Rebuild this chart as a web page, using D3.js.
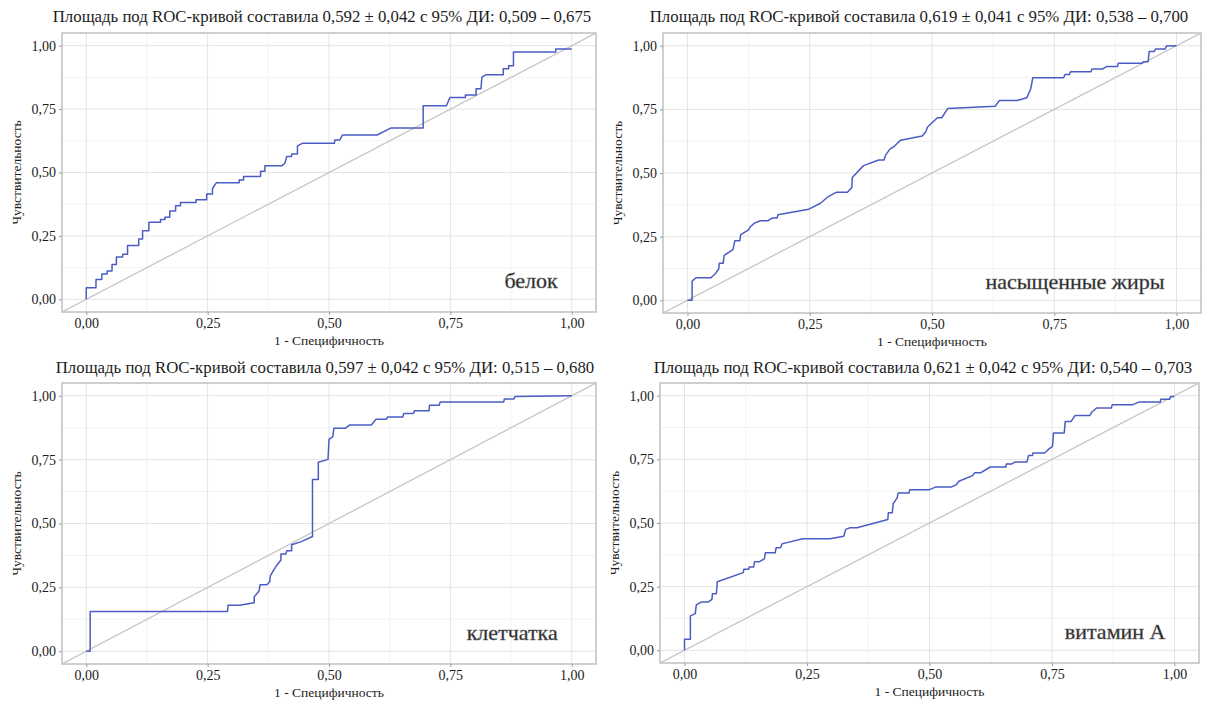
<!DOCTYPE html>
<html>
<head>
<meta charset="utf-8">
<script src="https://cdn.jsdelivr.net/npm/d3@7"></script>
<style>
  body { margin: 0; background: #ffffff; }
  svg { display: block; }
</style>
</head>
<body>
<svg id="chart" width="1209" height="704"></svg>
<script>
// Axis ticks shared by all four ROC panels
const tickValues = [0, 0.25, 0.5, 0.75, 1];
const tickLabels = ["0,00", "0,25", "0,50", "0,75", "1,00"];

// Panel captions and AUC statistics
const panelNames = ["белок", "насыщенные жиры", "клетчатка", "витамин А"];
const aucValues = [0.592, 0.619, 0.597, 0.621];
const aucErrors = [0.042, 0.041, 0.042, 0.042];
const ciLower = [0.509, 0.538, 0.515, 0.540];
const ciUpper = [0.675, 0.700, 0.680, 0.703];

// ROC curve: белок (1 - specificity, sensitivity)
const proteinFpr = [0, 0, 0.020, 0.020, 0.032, 0.032, 0.043, 0.043, 0.053, 0.053, 0.062, 0.062, 0.075, 0.075, 0.085, 0.085,
  0.108, 0.108, 0.116, 0.116, 0.129, 0.129, 0.153, 0.153, 0.162, 0.162, 0.172, 0.172, 0.184, 0.184, 0.194, 0.194,
  0.226, 0.226, 0.248, 0.248, 0.260, 0.260, 0.268, 0.315, 0.315, 0.324, 0.324, 0.359, 0.359, 0.368, 0.368,
  0.403, 0.409, 0.413, 0.423, 0.423, 0.435, 0.435, 0.445, 0.511, 0.512, 0.522, 0.528, 0.599, 0.627, 0.694, 0.694,
  0.742, 0.749, 0.781, 0.781, 0.803, 0.803, 0.813, 0.815, 0.823, 0.859, 0.859, 0.870, 0.870, 0.880, 0.880,
  0.967, 0.967, 1.0];
const proteinTpr = [0, 0.046, 0.046, 0.078, 0.078, 0.100, 0.100, 0.112, 0.112, 0.137, 0.137, 0.167, 0.167, 0.178, 0.178, 0.212,
  0.212, 0.238, 0.238, 0.270, 0.270, 0.304, 0.304, 0.315, 0.315, 0.324, 0.324, 0.348, 0.348, 0.369, 0.369, 0.382,
  0.382, 0.393, 0.393, 0.415, 0.415, 0.437, 0.460, 0.460, 0.470, 0.470, 0.484, 0.484, 0.505, 0.505, 0.527,
  0.527, 0.536, 0.563, 0.563, 0.573, 0.573, 0.605, 0.615, 0.615, 0.628, 0.628, 0.648, 0.648, 0.675, 0.675, 0.763,
  0.763, 0.796, 0.796, 0.806, 0.806, 0.830, 0.830, 0.876, 0.885, 0.885, 0.909, 0.909, 0.921, 0.921, 0.975,
  0.975, 0.987, 0.987];

// ROC curve: насыщенные жиры
const satFatFpr = [0, 0.0095, 0.0095, 0.0175, 0.048, 0.057, 0.064, 0.065, 0.073, 0.075, 0.093, 0.097, 0.107, 0.109, 0.125,
  0.129, 0.137, 0.149, 0.165, 0.173, 0.183, 0.185, 0.248, 0.272, 0.288, 0.304, 0.327, 0.336, 0.337, 0.360, 0.391,
  0.402, 0.405, 0.414, 0.424, 0.436, 0.480, 0.487, 0.491, 0.511, 0.520, 0.532, 0.629, 0.638, 0.674, 0.694, 0.702,
  0.706, 0.769, 0.772, 0.781, 0.783, 0.825, 0.827, 0.849, 0.857, 0.879, 0.881, 0.929, 0.932, 0.942, 0.944, 0.954,
  0.957, 0.977, 0.979, 1.0];
const satFatTpr = [0, 0, 0.0755, 0.0885, 0.0885, 0.104, 0.124, 0.145, 0.145, 0.176, 0.199, 0.234, 0.234, 0.258, 0.277,
  0.290, 0.303, 0.3125, 0.3125, 0.323, 0.323, 0.336, 0.358, 0.381, 0.4075, 0.424, 0.424, 0.443, 0.482, 0.529, 0.551,
  0.551, 0.570, 0.594, 0.607, 0.629, 0.645, 0.661, 0.681, 0.717, 0.717, 0.753, 0.762, 0.785, 0.785, 0.796, 0.831,
  0.874, 0.874, 0.887, 0.887, 0.898, 0.898, 0.909, 0.909, 0.918, 0.918, 0.931, 0.931, 0.9375, 0.9375, 0.977, 0.977,
  0.987, 0.987, 0.999, 1.0];

// ROC curve: клетчатка
const fiberFpr = [0, 0.008, 0.008, 0.291, 0.292, 0.316, 0.346, 0.346, 0.356, 0.358, 0.372, 0.378, 0.379, 0.391, 0.401,
  0.401, 0.411, 0.413, 0.423, 0.423, 0.443, 0.466, 0.466, 0.478, 0.478, 0.498, 0.500, 0.508, 0.510, 0.534, 0.543,
  0.587, 0.597, 0.618, 0.621, 0.652, 0.654, 0.674, 0.676, 0.706, 0.707, 0.727, 0.729, 0.860, 0.861, 0.881, 0.883, 1.0];
const fiberTpr = [0, 0, 0.156, 0.156, 0.180, 0.180, 0.190, 0.213, 0.236, 0.260, 0.260, 0.272, 0.295, 0.333, 0.357,
  0.381, 0.381, 0.393, 0.393, 0.417, 0.429, 0.449, 0.672, 0.672, 0.740, 0.751, 0.829, 0.840, 0.873, 0.873, 0.886,
  0.886, 0.908, 0.908, 0.917, 0.917, 0.931, 0.931, 0.941, 0.941, 0.963, 0.963, 0.976, 0.976, 0.987, 0.987, 0.997, 1.0];

// ROC curve: витамин А
const vitaminAFpr = [0, 0, 0.012, 0.012, 0.022, 0.024, 0.035, 0.049, 0.056, 0.057, 0.065, 0.067, 0.120, 0.121, 0.131,
  0.132, 0.141, 0.143, 0.153, 0.163, 0.165, 0.185, 0.187, 0.196, 0.199, 0.241, 0.297, 0.325, 0.329, 0.337, 0.352,
  0.415, 0.416, 0.424, 0.426, 0.434, 0.436, 0.458, 0.460, 0.500, 0.512, 0.544, 0.555, 0.560, 0.588, 0.592, 0.604,
  0.624, 0.656, 0.657, 0.668, 0.675, 0.699, 0.702, 0.710, 0.711, 0.735, 0.742, 0.751, 0.753, 0.775, 0.777, 0.789,
  0.797, 0.827, 0.831, 0.841, 0.871, 0.873, 0.915, 0.927, 0.971, 0.972, 0.990, 0.992, 1.0];
const vitaminATpr = [0, 0.043, 0.043, 0.135, 0.144, 0.178, 0.190, 0.190, 0.200, 0.222, 0.222, 0.269, 0.305, 0.318, 0.318,
  0.327, 0.327, 0.348, 0.348, 0.359, 0.383, 0.383, 0.403, 0.403, 0.418, 0.438, 0.438, 0.448, 0.475, 0.481, 0.481,
  0.514, 0.540, 0.540, 0.576, 0.599, 0.618, 0.618, 0.631, 0.631, 0.641, 0.641, 0.651, 0.664, 0.686, 0.697, 0.697,
  0.720, 0.720, 0.732, 0.732, 0.740, 0.740, 0.765, 0.765, 0.775, 0.775, 0.788, 0.801, 0.854, 0.854, 0.899, 0.899,
  0.922, 0.922, 0.935, 0.952, 0.952, 0.965, 0.965, 0.975, 0.975, 0.986, 0.986, 0.997, 0.997];

const curves = [
  { fpr: proteinFpr, tpr: proteinTpr },
  { fpr: satFatFpr, tpr: satFatTpr },
  { fpr: fiberFpr, tpr: fiberTpr },
  { fpr: vitaminAFpr, tpr: vitaminATpr }
];

// Frame of each plotting area and where its title is centred
const frames = [
  { left: 62, top: 33, width: 534, height: 279, titleX: 322, titleY: 22, captionDx: 14 },
  { left: 663, top: 33, width: 538, height: 280, titleX: 919, titleY: 22, captionDx: 12 },
  { left: 62, top: 383, width: 534, height: 281, titleX: 325, titleY: 373, captionDx: 14 },
  { left: 660, top: 383, width: 539, height: 280, titleX: 923, titleY: 373, captionDx: 9 }
];

const SERIF = '"Liberation Serif", "Times New Roman", Times, serif';
const INK = "#1c1c1c";
const fmt = d3.format(".3f");
const comma = v => fmt(v).replace(".", ",");
const svg = d3.select("#chart");

frames.forEach((f, i) => {
  const g = svg.append("g").attr("transform", `translate(${f.left},${f.top})`);
  const x = d3.scaleLinear().domain([-0.05, 1.05]).range([0, f.width]);
  const y = d3.scaleLinear().domain([-0.05, 1.05]).range([f.height, 0]);
  const clipId = `clip-${i}`;
  g.append("clipPath").attr("id", clipId)
    .append("rect").attr("width", f.width).attr("height", f.height);

  const minor = [0.125, 0.375, 0.625, 0.875];
  // minor grid
  g.append("g").selectAll("line").data(minor).join("line")
    .attr("x1", d => x(d)).attr("x2", d => x(d)).attr("y1", 0).attr("y2", f.height)
    .attr("stroke", "#f3f3f3").attr("stroke-width", 1);
  g.append("g").selectAll("line").data(minor).join("line")
    .attr("y1", d => y(d)).attr("y2", d => y(d)).attr("x1", 0).attr("x2", f.width)
    .attr("stroke", "#f3f3f3").attr("stroke-width", 1);
  // major grid
  g.append("g").selectAll("line").data(tickValues).join("line")
    .attr("x1", d => x(d)).attr("x2", d => x(d)).attr("y1", 0).attr("y2", f.height)
    .attr("stroke", "#e4e4e4").attr("stroke-width", 1);
  g.append("g").selectAll("line").data(tickValues).join("line")
    .attr("y1", d => y(d)).attr("y2", d => y(d)).attr("x1", 0).attr("x2", f.width)
    .attr("stroke", "#e4e4e4").attr("stroke-width", 1);

  // reference diagonal
  g.append("line")
    .attr("clip-path", `url(#${clipId})`)
    .attr("x1", x(-0.05)).attr("y1", y(-0.05)).attr("x2", x(1.05)).attr("y2", y(1.05))
    .attr("stroke", "#c6c6c6").attr("stroke-width", 1.3);

  // ROC curve
  const c = curves[i];
  const pts = c.fpr.map((v, k) => [v, c.tpr[k]]);
  g.append("path")
    .datum(pts)
    .attr("fill", "none")
    .attr("stroke", "#4b5cc4")
    .attr("stroke-width", 1.5)
    .attr("stroke-linejoin", "round")
    .attr("d", d3.line().x(d => x(d[0])).y(d => y(d[1])));

  // frame
  g.append("rect").attr("width", f.width).attr("height", f.height)
    .attr("fill", "none").attr("stroke", "#c4c4c4").attr("stroke-width", 1.6);

  // axes
  const axisFmt = (d) => tickLabels[tickValues.indexOf(d)];
  const xAxis = g.append("g").attr("transform", `translate(0,${f.height})`)
    .call(d3.axisBottom(x).tickValues(tickValues).tickFormat(axisFmt).tickSize(3).tickPadding(3));
  const yAxis = g.append("g")
    .call(d3.axisLeft(y).tickValues(tickValues).tickFormat(axisFmt).tickSize(3).tickPadding(3));
  [xAxis, yAxis].forEach(a => {
    a.attr("font-family", SERIF).attr("font-size", 14);
    a.select(".domain").remove();
    a.selectAll(".tick line").attr("stroke", "#9a9a9a");
    a.selectAll(".tick text")
      .attr("fill", INK)
      .attr("font-family", SERIF)
      .attr("font-size", 14);
  });

  // axis titles
  g.append("text")
    .attr("x", x(0.5)).attr("y", f.height + 33)
    .attr("text-anchor", "middle")
    .attr("font-family", SERIF).attr("font-size", 13.5).attr("fill", INK)
    .text("1 - Специфичность");
  g.append("text")
    .attr("transform", `translate(-41,${y(0.5)}) rotate(-90)`)
    .attr("text-anchor", "middle")
    .attr("font-family", SERIF).attr("font-size", 13.5).attr("fill", INK)
    .text("Чувствительность");

  // caption inside the panel
  g.append("text")
    .attr("x", x(1) - f.captionDx).attr("y", y(0.045))
    .attr("text-anchor", "end")
    .attr("font-family", SERIF).attr("font-size", 22).attr("fill", "#202020")
    .attr("stroke", "#707070").attr("stroke-width", 0.45)
    .text(panelNames[i]);

  // title
  svg.append("text")
    .attr("x", f.titleX).attr("y", f.titleY)
    .attr("text-anchor", "middle")
    .attr("font-family", SERIF).attr("font-size", 16.8).attr("fill", INK)
    .text(`Площадь под ROC-кривой составила ${comma(aucValues[i])} ± ${comma(aucErrors[i])} с 95% ДИ: ${comma(ciLower[i])} – ${comma(ciUpper[i])}`);
});
</script>
</body>
</html>
